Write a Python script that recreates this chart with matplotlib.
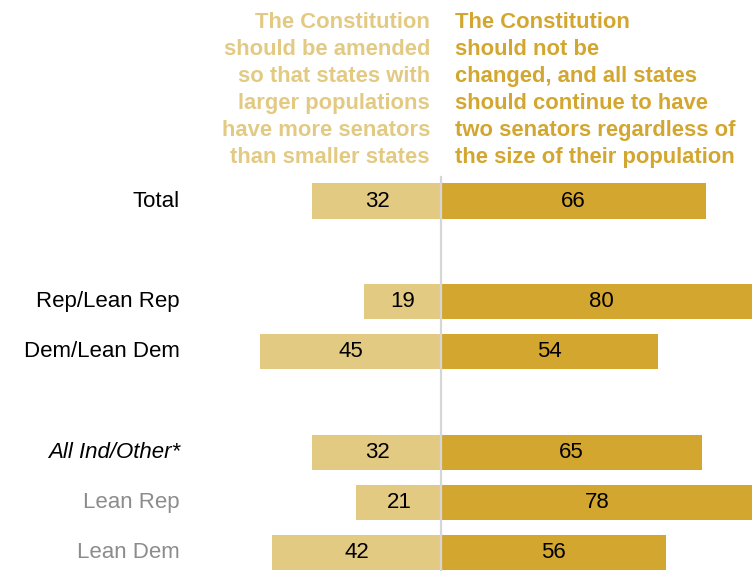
import matplotlib.pyplot as plt

# Survey groups, top to bottom
groups = ["Total", "Rep/Lean Rep", "Dem/Lean Dem", "All Ind/Other*", "Lean Rep", "Lean Dem"]
rows = [0, 2, 3, 5, 6, 7]
amend = [32, 19, 45, 32, 21, 42]
keep = [66, 80, 54, 65, 78, 56]

amend_head = ("The Constitution\nshould be amended\nso that states with\n"
              "larger populations\nhave more senators\nthan smaller states")
keep_head = ("The Constitution\nshould not be\nchanged, and all states\n"
             "should continue to have\ntwo senators regardless of\nthe size of their population")

light = "#E3CA83"
dark = "#D3A62F"

plt.rcParams['font.family'] = ['Liberation Sans', 'DejaVu Sans']

fig = plt.figure(figsize=(7.52, 5.71), dpi=100)
ax = fig.add_axes([0, 0, 1, 1])
ax.set_xlim(-110.25, 77.75)
ax.set_ylim(7.36, -4.0)
ax.axis('off')

ax.barh(rows, [-v for v in amend], height=0.70, color=light, left=-0.3)
ax.barh(rows, keep, height=0.70, color=dark, left=0.3)
ax.axvline(0, ymin=0, ymax=0.69, color="#D6D6D6", lw=1.6, zorder=3)

for r, a, k in zip(rows, amend, keep):
    ax.text(-a / 2, r, str(a), ha='center', va='center', fontsize=16, color='black')
    ax.text(k / 2, r, str(k), ha='center', va='center', fontsize=16, color='black')

for i, (g, r) in enumerate(zip(groups, rows)):
    color = "#8C8C8C" if i >= 4 else "black"
    style = 'italic' if g.startswith("All Ind") else 'normal'
    ax.text(-65.25, r, g, ha='right', va='center', fontsize=16, color=color, style=style)

ax.text(-2.75, -3.76, amend_head, ha='right', va='top', fontsize=15.8,
        fontweight='bold', color=light, linespacing=1.38)
ax.text(3.5, -3.76, keep_head, ha='left', va='top', fontsize=15.8,
        fontweight='bold', color=dark, linespacing=1.38)

plt.savefig("out.png", dpi=100)
